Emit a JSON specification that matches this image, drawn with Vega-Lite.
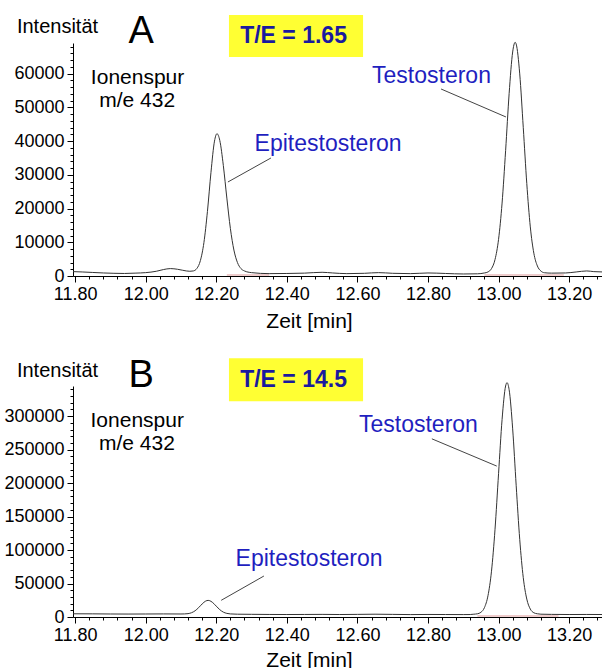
{
  "$schema": "https://vega.github.io/schema/vega-lite/v6.json",
  "background": "white",
  "padding": {"left": 3, "top": 12, "right": 0, "bottom": 0},
  "bounds": "flush",
  "spacing": 110,
  "config": {
    "font": "Liberation Sans",
    "view": {"stroke": null},
    "axis": {
      "grid": false,
      "domainColor": "black",
      "domainWidth": 1,
      "tickColor": "black",
      "tickWidth": 1,
      "labelColor": "black",
      "labelFont": "Liberation Sans",
      "labelFontSize": 18,
      "labelOverlap": false,
      "labelFlush": false,
      "labelBound": false,
      "titleColor": "black",
      "titleFont": "Liberation Sans",
      "titleFontWeight": "normal",
      "titleFontSize": 21
    }
  },
  "vconcat": [
    {
      "width": 530,
      "height": 233,
      "encoding": {
        "x": {
          "field": "t",
          "type": "quantitative",
          "scale": {"domain": [11.794, 13.296], "nice": false, "zero": false},
          "axis": {
            "values": [11.8, 11.84, 11.88, 11.92, 11.96, 12.0, 12.04, 12.08, 12.12, 12.16, 12.2, 12.24, 12.28, 12.32, 12.36, 12.4, 12.44, 12.48, 12.52, 12.56, 12.6, 12.64, 12.68, 12.72, 12.76, 12.8, 12.84, 12.88, 12.92, 12.96, 13.0, 13.04, 13.08, 13.12, 13.16, 13.2, 13.24, 13.28],
            "labelExpr": "abs(datum.value*5 - round(datum.value*5)) < 0.001 ? format(datum.value, '.2f') : ''",
            "tickSize": {"condition": {"test": "abs(datum.value*5 - round(datum.value*5)) < 0.001", "value": 6}, "value": 3},
            "labelPadding": 3,
            "title": "Zeit [min]",
            "titleX": 236,
            "titleY": 45,
            "titleAlign": "center",
            "titleBaseline": "middle"
          }
        },
        "y": {
          "field": "I",
          "type": "quantitative",
          "scale": {"domain": [0, 69100], "nice": false},
          "axis": {
            "values": [0, 2000, 4000, 6000, 8000, 10000, 12000, 14000, 16000, 18000, 20000, 22000, 24000, 26000, 28000, 30000, 32000, 34000, 36000, 38000, 40000, 42000, 44000, 46000, 48000, 50000, 52000, 54000, 56000, 58000, 60000, 62000, 64000, 66000, 68000],
            "labelExpr": "datum.value % 10000 === 0 ? format(datum.value, 'd') : ''",
            "tickSize": {"condition": {"test": "datum.value % 10000 === 0", "value": 6}, "value": 3},
            "labelPadding": 3,
            "title": "Intensität",
            "titleAngle": 0,
            "titleX": -16,
            "titleY": -17,
            "titleAlign": "center",
            "titleBaseline": "middle",
            "titleFontSize": 20
          }
        }
      },
      "layer": [
        {
          "data": {"values": [{"t": 12.236, "t2": 12.616, "I": 64960, "I2": 77410}]},
          "mark": {"type": "rect", "color": "#ffff33"},
          "encoding": {"x2": {"field": "t2"}, "y2": {"field": "I2"}}
        },
        {
          "data": {"values": [{"t": 12.23, "I": 300, "t2": 12.35, "I2": 300}, {"t": 12.96, "I": 300, "t2": 13.185, "I2": 300}]},
          "mark": {"type": "rule", "color": "#d07070", "strokeWidth": 1, "opacity": 0.7},
          "encoding": {"x2": {"field": "t2"}, "y2": {"field": "I2"}}
        },
        {
          "data": {"values": [
            {"t": 11.794, "I": 1300}, {"t": 11.82, "I": 1200}, {"t": 11.85, "I": 1050}, {"t": 11.88, "I": 900}, {"t": 11.91, "I": 800}, {"t": 11.94, "I": 750}, {"t": 11.97, "I": 850}, {"t": 12.0, "I": 1000}, {"t": 12.03, "I": 1400}, {"t": 12.05, "I": 1900}, {"t": 12.07, "I": 2200}, {"t": 12.09, "I": 2000}, {"t": 12.105, "I": 1700}, {"t": 12.115, "I": 1500}, {"t": 12.125, "I": 1400}, {"t": 12.135, "I": 1500},
            {"t": 12.145, "I": 2230}, {"t": 12.155, "I": 4560}, {"t": 12.165, "I": 9900}, {"t": 12.175, "I": 19150}, {"t": 12.185, "I": 30750}, {"t": 12.195, "I": 40000}, {"t": 12.202, "I": 42200}, {"t": 12.21, "I": 40200}, {"t": 12.22, "I": 32800}, {"t": 12.23, "I": 23100}, {"t": 12.24, "I": 14100}, {"t": 12.25, "I": 7700}, {"t": 12.26, "I": 4000}, {"t": 12.27, "I": 2200}, {"t": 12.28, "I": 1500}, {"t": 12.3, "I": 1000},
            {"t": 12.35, "I": 700}, {"t": 12.4, "I": 750}, {"t": 12.45, "I": 850}, {"t": 12.5, "I": 1100}, {"t": 12.53, "I": 900}, {"t": 12.57, "I": 700}, {"t": 12.62, "I": 800}, {"t": 12.66, "I": 1000}, {"t": 12.7, "I": 800}, {"t": 12.75, "I": 700}, {"t": 12.8, "I": 900}, {"t": 12.85, "I": 750}, {"t": 12.9, "I": 600}, {"t": 12.94, "I": 650}, {"t": 12.96, "I": 900},
            {"t": 12.97, "I": 1200}, {"t": 12.98, "I": 2190}, {"t": 12.99, "I": 4880}, {"t": 13.0, "I": 10860}, {"t": 13.01, "I": 21630}, {"t": 13.02, "I": 37170}, {"t": 13.03, "I": 54100}, {"t": 13.04, "I": 66440}, {"t": 13.047, "I": 69300}, {"t": 13.05, "I": 68770}, {"t": 13.06, "I": 59940}, {"t": 13.07, "I": 44090}, {"t": 13.08, "I": 27430}, {"t": 13.09, "I": 14560}, {"t": 13.1, "I": 6770}, {"t": 13.11, "I": 2980}, {"t": 13.12, "I": 1470}, {"t": 13.13, "I": 970}, {"t": 13.15, "I": 850},
            {"t": 13.19, "I": 900}, {"t": 13.22, "I": 1200}, {"t": 13.25, "I": 1500}, {"t": 13.27, "I": 1300}, {"t": 13.296, "I": 1200}
          ]},
          "mark": {"type": "line", "color": "#333333", "strokeWidth": 1, "interpolate": "monotone"},
          "encoding": {}
        },
        {
          "data": {"values": [{"t": 12.837, "I": 55460, "t2": 13.021, "I2": 47160}, {"t": 12.355, "I": 35000, "t2": 12.233, "I2": 27880}]},
          "mark": {"type": "rule", "color": "#444444", "strokeWidth": 1},
          "encoding": {"x2": {"field": "t2"}, "y2": {"field": "I2"}}
        },
        {
          "data": {"values": [{"t": 11.987, "I": 72370, "label": "A"}]},
          "mark": {"type": "text", "fontSize": 38, "color": "black", "align": "center", "baseline": "middle"},
          "encoding": {"text": {"field": "label"}}
        },
        {
          "data": {"values": [{"t": 12.419, "I": 71180, "label": "T/E = 1.65"}]},
          "mark": {"type": "text", "fontSize": 23, "fontWeight": "bold", "color": "#1a1a9e", "align": "center", "baseline": "middle"},
          "encoding": {"text": {"field": "label"}}
        },
        {
          "data": {"values": [{"t": 11.977, "I": 58730, "label": "Ionenspur"}, {"t": 11.976, "I": 51900, "label": "m/e 432"}]},
          "mark": {"type": "text", "fontSize": 21, "color": "black", "align": "center", "baseline": "middle"},
          "encoding": {"text": {"field": "label"}}
        },
        {
          "data": {"values": [{"t": 12.81, "I": 59320, "label": "Testosteron"}, {"t": 12.517, "I": 39150, "label": "Epitestosteron"}]},
          "mark": {"type": "text", "fontSize": 23, "color": "#1f1fbf", "align": "center", "baseline": "middle"},
          "encoding": {"text": {"field": "label"}}
        }
      ]
    },
    {
      "width": 530,
      "height": 231,
      "encoding": {
        "x": {
          "field": "t",
          "type": "quantitative",
          "scale": {"domain": [11.794, 13.296], "nice": false, "zero": false},
          "axis": {
            "values": [11.8, 11.84, 11.88, 11.92, 11.96, 12.0, 12.04, 12.08, 12.12, 12.16, 12.2, 12.24, 12.28, 12.32, 12.36, 12.4, 12.44, 12.48, 12.52, 12.56, 12.6, 12.64, 12.68, 12.72, 12.76, 12.8, 12.84, 12.88, 12.92, 12.96, 13.0, 13.04, 13.08, 13.12, 13.16, 13.2, 13.24, 13.28],
            "labelExpr": "abs(datum.value*5 - round(datum.value*5)) < 0.001 ? format(datum.value, '.2f') : ''",
            "tickSize": {"condition": {"test": "abs(datum.value*5 - round(datum.value*5)) < 0.001", "value": 6}, "value": 3},
            "labelPadding": 3,
            "title": "Zeit [min]",
            "titleX": 236,
            "titleY": 43,
            "titleAlign": "center",
            "titleBaseline": "middle"
          }
        },
        "y": {
          "field": "I",
          "type": "quantitative",
          "scale": {"domain": [0, 345000], "nice": false},
          "axis": {
            "values": [0, 10000, 20000, 30000, 40000, 50000, 60000, 70000, 80000, 90000, 100000, 110000, 120000, 130000, 140000, 150000, 160000, 170000, 180000, 190000, 200000, 210000, 220000, 230000, 240000, 250000, 260000, 270000, 280000, 290000, 300000, 310000, 320000, 330000, 340000],
            "labelExpr": "datum.value % 50000 === 0 ? format(datum.value, 'd') : ''",
            "tickSize": {"condition": {"test": "datum.value % 50000 === 0", "value": 6}, "value": 3},
            "labelPadding": 3,
            "title": "Intensität",
            "titleAngle": 0,
            "titleX": -16,
            "titleY": -16,
            "titleAlign": "center",
            "titleBaseline": "middle",
            "titleFontSize": 20
          }
        }
      },
      "layer": [
        {
          "data": {"values": [{"t": 12.236, "t2": 12.616, "I": 322380, "I2": 386560}]},
          "mark": {"type": "rect", "color": "#ffff33"},
          "encoding": {"x2": {"field": "t2"}, "y2": {"field": "I2"}}
        },
        {
          "data": {"values": [{"t": 12.94, "I": 1500, "t2": 13.17, "I2": 1500}]},
          "mark": {"type": "rule", "color": "#d07070", "strokeWidth": 1, "opacity": 0.7},
          "encoding": {"x2": {"field": "t2"}, "y2": {"field": "I2"}}
        },
        {
          "data": {"values": [
            {"t": 11.794, "I": 4800}, {"t": 11.85, "I": 4700}, {"t": 11.9, "I": 4500}, {"t": 11.95, "I": 4400}, {"t": 12.0, "I": 4500}, {"t": 12.05, "I": 4600}, {"t": 12.1, "I": 4500}, {"t": 12.11, "I": 4600},
            {"t": 12.12, "I": 5000}, {"t": 12.13, "I": 6400}, {"t": 12.14, "I": 9300}, {"t": 12.15, "I": 13950}, {"t": 12.16, "I": 19500}, {"t": 12.17, "I": 23800}, {"t": 12.177, "I": 24800}, {"t": 12.18, "I": 24600}, {"t": 12.19, "I": 21500}, {"t": 12.2, "I": 16200}, {"t": 12.21, "I": 10950}, {"t": 12.22, "I": 7300}, {"t": 12.23, "I": 5400}, {"t": 12.24, "I": 4600}, {"t": 12.26, "I": 4200},
            {"t": 12.3, "I": 4000}, {"t": 12.35, "I": 3800}, {"t": 12.4, "I": 3700}, {"t": 12.45, "I": 3800}, {"t": 12.5, "I": 3900}, {"t": 12.55, "I": 3700}, {"t": 12.6, "I": 3900}, {"t": 12.65, "I": 4200}, {"t": 12.7, "I": 3900}, {"t": 12.75, "I": 3600}, {"t": 12.8, "I": 3800}, {"t": 12.85, "I": 3700}, {"t": 12.9, "I": 3600}, {"t": 12.92, "I": 3700},
            {"t": 12.93, "I": 4200}, {"t": 12.94, "I": 4800}, {"t": 12.95, "I": 7000}, {"t": 12.96, "I": 14000}, {"t": 12.97, "I": 31700}, {"t": 12.98, "I": 68400}, {"t": 12.99, "I": 131000}, {"t": 13.0, "I": 214000}, {"t": 13.01, "I": 295000}, {"t": 13.02, "I": 345000}, {"t": 13.024, "I": 350000}, {"t": 13.03, "I": 339500}, {"t": 13.04, "I": 281000}, {"t": 13.05, "I": 196000}, {"t": 13.06, "I": 116000}, {"t": 13.07, "I": 59000}, {"t": 13.08, "I": 26800}, {"t": 13.09, "I": 11900}, {"t": 13.1, "I": 6300}, {"t": 13.11, "I": 4800}, {"t": 13.12, "I": 4200},
            {"t": 13.15, "I": 3900}, {"t": 13.2, "I": 3700}, {"t": 13.25, "I": 3800}, {"t": 13.296, "I": 3700}
          ]},
          "mark": {"type": "line", "color": "#333333", "strokeWidth": 1, "interpolate": "monotone"},
          "encoding": {}
        },
        {
          "data": {"values": [{"t": 12.811, "I": 266120, "t2": 12.995, "I2": 225370}, {"t": 12.335, "I": 61190, "t2": 12.214, "I2": 24920}]},
          "mark": {"type": "rule", "color": "#444444", "strokeWidth": 1},
          "encoding": {"x2": {"field": "t2"}, "y2": {"field": "I2"}}
        },
        {
          "data": {"values": [{"t": 11.987, "I": 360440, "label": "B"}]},
          "mark": {"type": "text", "fontSize": 38, "color": "black", "align": "center", "baseline": "middle"},
          "encoding": {"text": {"field": "label"}}
        },
        {
          "data": {"values": [{"t": 12.419, "I": 353720, "label": "T/E = 14.5"}]},
          "mark": {"type": "text", "fontSize": 23, "fontWeight": "bold", "color": "#1a1a9e", "align": "center", "baseline": "middle"},
          "encoding": {"text": {"field": "label"}}
        },
        {
          "data": {"values": [{"t": 11.976, "I": 293280, "label": "Ionenspur"}, {"t": 11.975, "I": 258950, "label": "m/e 432"}]},
          "mark": {"type": "text", "fontSize": 21, "color": "black", "align": "center", "baseline": "middle"},
          "encoding": {"text": {"field": "label"}}
        },
        {
          "data": {"values": [{"t": 12.773, "I": 287310, "label": "Testosteron"}, {"t": 12.463, "I": 87310, "label": "Epitestosteron"}]},
          "mark": {"type": "text", "fontSize": 23, "color": "#1f1fbf", "align": "center", "baseline": "middle"},
          "encoding": {"text": {"field": "label"}}
        }
      ]
    }
  ]
}
